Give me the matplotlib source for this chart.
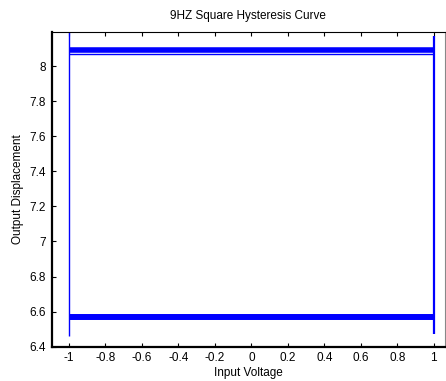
import matplotlib
matplotlib.use("Agg")
import matplotlib.pyplot as plt

plt.rcParams['font.family'] = ['Liberation Sans', 'DejaVu Sans']

# Hysteresis loop segments (input voltage, output displacement)
upper_x = [-1.0, 1.0]
upper_y = [8.094, 8.094]
upper2_y = [8.070, 8.070]
lower_x = [-1.0, 1.0]
lower_y = [6.572, 6.572]
left_x = [-1.0, -1.0]
left_y = [6.46, 8.196]
right_x = [1.0, 1.0]
right_y = [6.47, 8.17]

xticks = [-1, -0.8, -0.6, -0.4, -0.2, 0, 0.2, 0.4, 0.6, 0.8, 1]
xticklabels = ['-1', '-0.8', '-0.6', '-0.4', '-0.2', '0', '0.2', '0.4', '0.6', '0.8', '1']
yticks = [6.4, 6.6, 6.8, 7.0, 7.2, 7.4, 7.6, 7.8, 8.0]
yticklabels = ['6.4', '6.6', '6.8', '7', '7.2', '7.4', '7.6', '7.8', '8']

fig = plt.figure(figsize=(4.46, 3.81), dpi=100)
ax = fig.add_axes([51.7/446, 1 - 346.7/381, (445 - 51.7)/446, (346.7 - 31.7)/381])

blue = '#0000ff'
ax.plot(upper_x, upper_y, color=blue, lw=4.0, solid_capstyle='butt')
ax.plot(upper_x, upper2_y, color=blue, lw=1.0, solid_capstyle='butt')
ax.plot(lower_x, lower_y, color=blue, lw=4.3, solid_capstyle='butt')
ax.plot(left_x, left_y, color=blue, lw=1.0, solid_capstyle='butt')
ax.plot(right_x, right_y, color=blue, lw=1.6, solid_capstyle='butt')

ax.set_xlim(-1.095, 1.062)
ax.set_ylim(6.4, 8.196)
ax.set_xticks(xticks)
ax.set_xticklabels(xticklabels)
ax.set_yticks(yticks)
ax.set_yticklabels(yticklabels)
ax.tick_params(direction='in', length=3, width=0.8, labelsize=8.5, top=True, right=False, pad=4)

for s in ['left', 'bottom']:
    ax.spines[s].set_linewidth(1.6)
    ax.spines[s].set_color('black')
ax.spines['top'].set_linewidth(0.8)
ax.spines['top'].set_color('black')
ax.spines['right'].set_linewidth(0.8)
ax.spines['right'].set_color('#888888')

ax.set_title('9HZ Square Hysteresis Curve', fontsize=8.5, pad=9)
ax.set_xlabel('Input Voltage', fontsize=8.5, labelpad=2)
ax.set_ylabel('Output Displacement', fontsize=8.5, labelpad=4)

fig.savefig('out.png', dpi=100)
